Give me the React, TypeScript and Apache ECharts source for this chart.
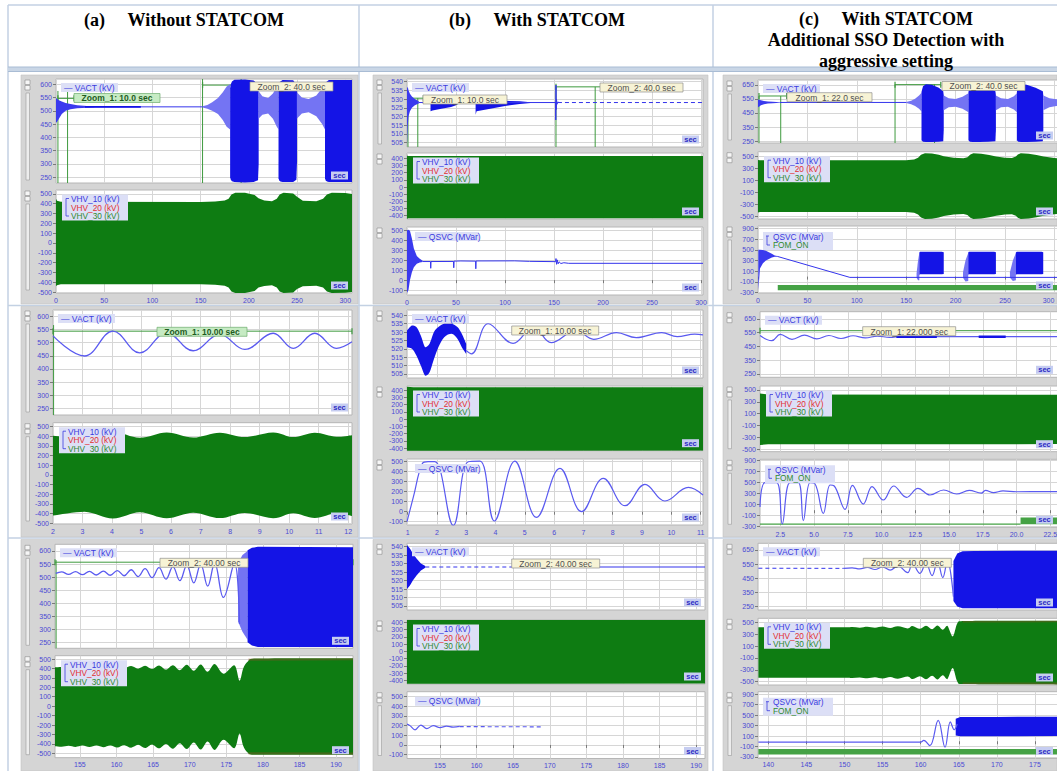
import React, { useEffect, useRef } from "react";
import * as echarts from "echarts";

// ---------------- tick values ----------------
const secTicks300 = [0, 50, 100, 150, 200, 250, 300];
const secTicksZoomA = [2, 3, 4, 5, 6, 7, 8, 9, 10, 11, 12];
const secTicksZoomB = [1, 2, 3, 4, 5, 6, 7, 8, 9, 10, 11];
const secTicksZoomC = [2.5, 5, 7.5, 10, 12.5, 15, 17.5, 20, 22.5];
const secTicksLateAB = [155, 160, 165, 170, 175, 180, 185, 190];
const secTicksLateC = [140, 145, 150, 155, 160, 165, 170, 175];
const kvTicks600 = [250, 300, 350, 400, 450, 500, 550, 600];
const kvTicks540 = [505, 510, 515, 520, 525, 530, 535, 540];
const kvTicks650 = [250, 350, 450, 550, 650];
const hvTicks500 = [-500, -400, -300, -200, -100, 0, 100, 200, 300, 400, 500];
const hvTicks400 = [-400, -300, -200, -100, 0, 100, 200, 300, 400];
const hvTicksOdd = [-500, -300, -100, 100, 300, 500];
const qTicks500 = [-100, 0, 100, 200, 300, 400, 500];
const qTicks900 = [-300, -100, 100, 300, 500, 700, 900];

const columnTitles = [
  ["(a)\u00a0\u00a0\u00a0\u00a0\u00a0Without STATCOM"],
  ["(b)\u00a0\u00a0\u00a0\u00a0\u00a0With STATCOM"],
  ["(c)\u00a0\u00a0\u00a0\u00a0\u00a0With STATCOM", "Additional SSO Detection with", "aggressive setting"],
];
const vhvNames = ["VHV_10 (kV)", "VHV_20 (kV)", "VHV_30 (kV)"];

// ---------------- (a) without STATCOM, 0-300 s ----------------
const a1VactSettle = [[0, 455, 548], [1, 458, 546], [3, 470, 540], [6, 488, 535], [10, 500, 530], [15, 506, 526], [22, 510, 521], [32, 512, 518], [40, 513, 517]];
const a1VactLine = [[40, 515], [152, 515]];
const a1VactThick = [[30, 515], [88, 515]];
const a1VactGrow = [[152, 513, 517], [157, 508, 522], [162, 500, 532], [168, 488, 548], [173, 465, 570], [177, 440, 592], [180.6, 430, 600]];
const a1VactBurst1 = [[180.6, 250, 585], [181.3, 240, 600], [182.5, 235, 611], [185, 232, 617], [196, 230, 618], [205, 232, 614], [209.5, 238, 600], [210.2, 300, 570]];
const a1VactRipple1 = [[210, 470, 575], [214, 485, 555], [220, 490, 548], [225, 470, 565], [229, 440, 590], [230.8, 430, 598]];
const a1VactBurst2 = [[230.8, 245, 590], [231.5, 238, 602], [232.7, 234, 611], [235, 232, 616], [246, 232, 615], [249.3, 240, 598], [250, 310, 570]];
const a1VactRipple2 = [[249.8, 470, 570], [255, 490, 550], [262, 495, 545], [270, 480, 558], [276, 450, 585], [279, 430, 598]];
const a1VactBurst3 = [[279, 245, 590], [279.7, 238, 602], [281, 234, 611], [283, 232, 616], [307, 232, 616]];
const a1VhvTop = [[0, 450], [1, 430], [5, 420], [150, 418], [165, 422], [175, 432], [179, 450], [182, 495], [186, 512], [196, 512], [206, 490], [210, 455], [216, 432], [224, 425], [229, 450], [232, 495], [236, 512], [246, 505], [250, 470], [256, 430], [270, 425], [277, 450], [281, 495], [286, 512], [300, 510], [307, 500]];
const a1VhvBot = [[0, -440], [1, -430], [5, -420], [150, -420], [165, -425], [175, -435], [179, -455], [182, -495], [186, -510], [196, -510], [206, -490], [210, -455], [216, -438], [224, -432], [229, -455], [232, -495], [236, -510], [246, -505], [250, -470], [256, -440], [270, -435], [277, -455], [281, -495], [286, -510], [300, -508], [307, -500]];
const a1Zoom1 = [2, 12];
const a1Zoom2 = [152, 192];

// ---------------- (b) with STATCOM, 0-300 s ----------------
const b1VactSettle = [[0, 504, 536], [0.8, 515, 537], [1.5, 520, 535], [3, 523, 533], [5, 525, 531.5], [8, 526.5, 530], [12, 527.5, 528.8]];
const b1VactLine = [[12, 528], [152, 528]];
const b1VactBurst1 = [[24, 523, 530], [26, 523.5, 530], [35, 524.5, 529.5], [45, 525.5, 529], [50, 526.5, 528.7], [51, 527.5, 528.4]];
const b1VactBurst2 = [[70, 521, 530.5], [71, 523, 530], [85, 524.5, 529.5], [100, 526, 529], [115, 527.2, 528.7], [126, 527.8, 528.2]];
const b1VactKick = [[151.6, 528], [151.8, 518], [152, 538], [152.2, 524], [152.5, 530], [153, 527], [154, 528.5]];
const b1VactTail = [[154, 528], [302, 528]];
const b1VhvTop = [[0, 440], [1, 432], [302, 432]];
const b1VhvBot = [[0, -445], [1, -434], [302, -434]];
const b1QsvcSettle = [[0, -130, 505], [1.5, -100, 510], [3, 0, 500], [5, 80, 420], [7, 130, 320], [10, 165, 245], [13, 178, 215], [16, 184, 196]];
const b1QsvcLine = [[16, 188], [24, 188], [24.2, 120], [24.5, 188], [47.5, 189], [47.7, 125], [48, 192], [55, 194], [70, 192], [70.2, 115], [70.5, 194], [110, 195], [125, 190], [151.6, 187], [152, 218], [152.6, 160], [153.3, 205], [154.2, 165], [155.2, 185], [157, 168], [160, 176], [165, 170], [302, 170]];
const b1Zoom1 = [1, 11];
const b1Zoom2 = [152, 192];

// ---------------- (c) with STATCOM + SSO detection, 0-300 s ----------------
const c1VactSettle = [[0, 490, 548], [1, 495, 545], [3, 505, 540], [6, 512, 535], [10, 517, 532], [15, 520, 530], [22, 523, 527]];
const c1VactLine = [[22, 525], [150, 525]];
const c1VactGrow = [[150, 521, 529], [155, 512, 538], [159, 500, 552], [163, 480, 575], [165.5, 460, 595]];
const c1VactBurst1 = [[165.5, 255, 600], [167, 245, 640], [170, 243, 655], [176, 243, 652], [183, 245, 630], [187.5, 248, 605], [188, 330, 575]];
const c1VactRipple1 = [[188, 470, 575], [193, 490, 555], [200, 495, 550], [207, 480, 565], [213, 455, 590]];
const c1VactBurst2 = [[213, 255, 600], [214.5, 245, 640], [217.5, 243, 655], [224, 243, 652], [233, 245, 630], [240.3, 248, 605], [240.8, 330, 575]];
const c1VactRipple2 = [[240.8, 470, 575], [246, 490, 555], [253, 495, 550], [259, 475, 570], [262, 455, 590]];
const c1VactBurst3 = [[262, 255, 600], [263.5, 245, 640], [266.5, 243, 655], [272, 243, 652], [281, 245, 630], [288.3, 248, 605], [288.8, 330, 575]];
const c1VactRipple3 = [[288.8, 470, 575], [295, 490, 555], [302, 500, 548], [308, 505, 545]];
const c1VhvTop = [[0, 435], [2, 428], [150, 428], [158, 440], [162, 470], [165, 520], [169, 545], [176, 540], [183, 520], [188, 495], [198, 470], [208, 462], [212, 480], [215, 525], [218, 545], [226, 538], [234, 515], [241, 490], [250, 470], [257, 465], [261, 490], [263, 525], [266, 545], [274, 538], [282, 515], [289, 490], [300, 465], [308, 460]];
const c1VhvBot = [[0, -440], [2, -432], [150, -432], [158, -445], [162, -475], [165, -525], [169, -548], [176, -545], [183, -525], [188, -500], [198, -475], [208, -466], [212, -485], [215, -530], [218, -548], [226, -542], [234, -520], [241, -495], [250, -475], [257, -470], [261, -495], [263, -530], [266, -548], [274, -542], [282, -520], [289, -495], [300, -470], [308, -465]];
const c1QsvcSettle = [[0.3, -250, 498], [1, -100, 500], [2, 150, 500], [5, 250, 495], [8, 300, 480], [11, 330, 455], [14, 355, 425], [17, 368, 395], [19.5, 372, 382]];
const c1QsvcLine = [[19.5, 377], [93, -15], [308, -15]];
const c1QsvcLead1 = [[160.5, -20, 60], [162, -70, 300], [163.3, -70, 440]];
const c1QsvcBurst1 = [[163.3, 30, 450], [164, 45, 465], [186, 45, 465], [188, 50, 455]];
const c1QsvcLead2 = [[207.5, -20, 80], [210, -90, 300], [212.8, -80, 440]];
const c1QsvcBurst2 = [[212.8, 35, 450], [213.5, 45, 465], [239, 45, 465], [240.8, 50, 455]];
const c1QsvcLead3 = [[255, -20, 80], [258, -80, 300], [261, -70, 440]];
const c1QsvcBurst3 = [[261, 35, 450], [262, 45, 465], [287, 45, 465], [288.7, 50, 455]];
const c1Fom = [[20, -255, -155], [308, -255, -155]];
const c1Zoom1 = [1, 23];
const c1Zoom2 = [138.7, 178.7];

// ---------------- Zoom_1 windows ----------------
const a2Vact = [[2, 525], [3.07, 449], [4.03, 543], [4.94, 461], [5.85, 537], [6.75, 469], [7.65, 531], [8.5, 474], [9.46, 535], [10.14, 478], [10.87, 535], [11.6, 478], [12.13, 503]];
const a2VhvTop = [[2, 405], [3.07, 382], [4.03, 445], [4.94, 385], [5.85, 440], [6.75, 388], [7.65, 438], [8.5, 392], [9.46, 440], [10.14, 392], [10.87, 438], [11.6, 395], [12.13, 412]];
const a2VhvBot = [[2, -420], [3.07, -380], [4.03, -450], [4.94, -385], [5.85, -448], [6.75, -390], [7.65, -446], [8.5, -392], [9.46, -447], [10.14, -395], [10.87, -445], [11.6, -397], [12.13, -425]];

const b2VactDense = [[0.98, 521, 531], [1.15, 520, 534], [1.3, 516, 533], [1.45, 510, 528], [1.6, 504, 521], [1.75, 506, 523], [1.9, 514, 530], [2.05, 521, 533], [2.25, 527, 535], [2.5, 529, 535], [2.7, 526, 533], [2.85, 521, 529], [3.0, 517, 523]];
const b2VactLine = [[3.0, 519], [3.18, 517], [3.75, 535], [4.6, 523.3], [5.3, 533], [5.9, 523.7], [6.75, 531], [7.35, 525.7], [8.13, 529.7], [8.8, 526.7], [9.67, 529.7], [10.2, 527.3], [10.8, 528.8], [11.08, 528.3]];
const b2VhvTop = [[0.98, 445], [1.2, 437], [11.08, 437]];
const b2VhvBot = [[0.98, -438], [11.08, -434]];
const b2Qsvc = [[0.98, -100], [1.2, 150], [1.5, 480], [1.7, 500], [1.93, 500], [2.56, -137], [3.07, 500], [3.47, 505], [3.96, -93], [4.66, 505], [5.4, -57], [6.2, 433], [6.94, 0], [7.68, 333], [8.42, 60], [9.1, 273], [9.78, 107], [10.58, 243], [11.08, 167]];

const c2Vact = [[1, 530], [1.87, 492], [2.5, 538], [3.37, 502], [4.3, 532], [5.2, 505], [6.1, 530], [7.0, 508], [7.9, 528], [8.8, 512], [9.7, 526], [10.6, 516], [11.5, 524], [12.4, 519], [13.3, 522], [23.4, 521]];
const c2VactThick1 = [[11.1, 521], [14.1, 521]];
const c2VactThick2 = [[17.2, 521], [19.2, 521]];
const c2VhvTop = [[1, 440], [1.6, 425], [23.4, 420]];
const c2VhvBot = [[1, -428], [1.6, -415], [23.4, -412]];
const c2Qsvc = [[1, 60], [1.37, 500], [2.23, 500], [2.65, -250], [3.22, 500], [3.84, 500], [4.21, -190], [4.7, 500], [5.07, 480], [5.69, -57], [6.19, 458], [6.5, 440], [7.3, 15], [7.85, 450], [8.65, 112], [9.3, 430], [10.13, 185], [10.9, 440], [11.86, 233], [12.7, 397], [13.59, 276], [14.6, 367], [15.57, 294], [16.5, 360], [17.4, 310], [17.7, 360], [18.3, 320], [19, 350], [20, 335], [23.4, 340]];
const c2FomLow = [[1, -255], [20.3, -255]];
const c2Fom = [[20.3, -255, -135], [23.4, -255, -135]];

// ---------------- Zoom_2 windows ----------------
const a3Vact = [[151.7, 514], [152.5, 520], [153.45, 510], [154.4, 521], [155.35, 509], [156.3, 522], [157.25, 508], [158.2, 523], [159.15, 507], [160.1, 525], [161.05, 505], [162, 528], [162.95, 502], [163.9, 532], [164.85, 498], [165.8, 536], [166.75, 492], [167.7, 540], [168.65, 486], [169.6, 545], [170.55, 478], [171.5, 550], [172.45, 465], [173.4, 553], [174.6, 422], [176.1, 553], [176.8, 320]];
const a3VactSpikes = [[176.6, 330, 553], [177.2, 290, 585], [177.9, 260, 600]];
const a3VactChaos = [[177.9, 250, 603], [178.5, 238, 612], [179.3, 232, 616], [192.3, 232, 614]];
const a3VhvTop = [[151.6, 412], [152.5, 416], [153.45, 408], [154.4, 418], [155.35, 406], [156.3, 419], [157.25, 405], [158.2, 420], [159.15, 404], [160.1, 422], [161.05, 402], [162, 425], [162.95, 398], [163.9, 428], [164.85, 394], [165.8, 431], [166.75, 388], [167.7, 434], [168.65, 382], [169.6, 438], [170.55, 375], [171.5, 442], [172.45, 365], [173.4, 446], [174.6, 345], [176.1, 435], [176.8, 270], [177.3, 400], [177.9, 470], [178.8, 505], [192.3, 508]];
const a3VhvBot = [[151.6, -425], [152.5, -430], [153.45, -420], [154.4, -432], [155.35, -418], [156.3, -433], [157.25, -417], [158.2, -434], [159.15, -416], [160.1, -437], [161.05, -413], [162, -440], [162.95, -410], [163.9, -444], [164.85, -405], [165.8, -447], [166.75, -400], [167.7, -451], [168.65, -393], [169.6, -455], [170.55, -386], [171.5, -460], [172.45, -375], [173.4, -464], [174.6, -355], [176.1, -445], [176.8, -290], [177.3, -420], [177.9, -490], [178.8, -515], [192.3, -515]];
const a3VhvRedTop = [[178, 482, 505], [192.3, 488, 508]];
const a3VhvRedBot = [[178, -512, -488], [192.3, -515, -492]];

const b3VactSettle = [[150.5, 515, 541], [150.9, 517, 539], [151.3, 520, 536], [151.8, 523, 533], [152.4, 526, 530], [153, 527.5, 528.6]];
const b3VactDash = [[153, 528], [165.5, 528]];
const b3VactLine = [[165.5, 528], [191.2, 528]];
const b3VhvTop = [[150.5, 440], [150.8, 433], [191.2, 433]];
const b3VhvBot = [[150.5, -445], [191.2, -440]];
const b3Qsvc = [[150.5, 215], [150.9, 200], [151.6, 157], [152.4, 206], [153.2, 170], [154.1, 200], [155, 180], [155.9, 195], [156.8, 185], [157.7, 192]];
const b3QsvcDash = [[157.7, 189], [169, 188]];

const c3VactDash = [[138.7, 521], [149.9, 520]];
const c3VactGrow = [[149.9, 520], [151, 524], [152, 516], [153, 527], [154, 512], [155, 530], [156, 507], [157, 538], [158.3, 490], [158.9, 556], [159.9, 485], [160.7, 556], [161.5, 469], [162.2, 568], [162.9, 455], [163.5, 572], [164.3, 320]];
const c3VactChaos = [[164.3, 290, 572], [164.8, 250, 625], [165.5, 238, 640], [167, 238, 643], [178.6, 238, 645]];
const c3VhvTop = [[138.7, 415], [150, 415], [151, 420], [152, 410], [153, 423], [154, 406], [155, 427], [156, 402], [157, 432], [158.3, 396], [158.9, 438], [159.9, 390], [160.7, 442], [161.5, 384], [162.2, 446], [162.9, 375], [163.5, 440], [164.2, 260], [164.8, 480], [165.5, 520], [178.6, 525]];
const c3VhvBot = [[138.7, -432], [150, -432], [151, -437], [152, -427], [153, -440], [154, -423], [155, -444], [156, -419], [157, -449], [158.3, -413], [158.9, -455], [159.9, -407], [160.7, -459], [161.5, -401], [162.2, -463], [162.9, -392], [163.5, -457], [164.2, -270], [164.8, -495], [165.5, -540], [178.6, -545]];
const c3VhvRedTop = [[165.5, 495, 520], [178.6, 500, 525]];
const c3VhvRedBot = [[165.5, -540, -512], [178.6, -545, -515]];
const c3Qsvc = [[138.7, -15], [160, -15], [160.4, 15], [161.2, -85], [162.3, 400], [163.2, -115], [163.9, 370], [164.4, 220], [164.8, 330]];
const c3QsvcBurst = [[164.6, 110, 430], [165.2, 95, 465], [170, 95, 465], [178.6, 100, 470]];
const c3Fom = [[138.7, -255, -150], [178.6, -255, -150]];

// ---------------- styling ----------------
const FONT = "'Liberation Sans', Arial, sans-serif";
const SERIF = "'Liberation Serif', 'Times New Roman', serif";
const BLUE = "#1414e6";
const BLUE_MID = "#3a3aee";
const BLUE_LINE = "#3434ec";
const BLUE_LIGHT = "#7474f3";
const BLUE_WAVE = "#5a5af0";
const GREEN = "#0e7c12";
const FOM_GREEN = "#45a245";
const MARK_GREEN = "#3e9a3e";
const RED_EDGE = "#a4472c";
const LABEL_BLUE = "#4a4ad4";
const TEXT_BLUE = "#3a3ae0";
const FRAME_GRAY = "#d5d5d5";
const TABLE_LINE = "#c3d1e3";

// Outline through pixel points; optional Catmull-Rom smoothing with clamped control points.
function outline(pts: number[][], smooth: boolean, start: boolean): string {
  let d = "";
  for (let i = 0; i < pts.length; i++) {
    const p = pts[i];
    if (i === 0) {
      d += (start ? "M" : "L") + p[0] + " " + p[1];
      continue;
    }
    if (!smooth) {
      d += "L" + p[0] + " " + p[1];
      continue;
    }
    const a = pts[i - 1];
    const a0 = pts[i - 2] || a;
    const b1 = pts[i + 1] || p;
    const cl = (v: number, u: number, w: number) => Math.max(Math.min(u, w), Math.min(Math.max(u, w), v));
    const c1x = cl(a[0] + (p[0] - a0[0]) / 6, a[0], p[0]);
    const c1y = cl(a[1] + (p[1] - a0[1]) / 6, a[1], p[1]);
    const c2x = cl(p[0] - (b1[0] - a[0]) / 6, a[0], p[0]);
    const c2y = cl(p[1] - (b1[1] - a[1]) / 6, a[1], p[1]);
    d += "C" + c1x + " " + c1y + " " + c2x + " " + c2y + " " + p[0] + " " + p[1];
  }
  return d;
}

function buildOption() {
  const grid: any[] = [];
  const xAxis: any[] = [];
  const yAxis: any[] = [];
  const series: any[] = [];
  const graphic: any[] = [];

  const box = (x: number, y: number, w: number, h: number, fill: string, stroke = "none", lw = 0, z = 40) =>
    graphic.push({ type: "rect", silent: true, z, shape: { x, y, width: w, height: h }, style: { fill, stroke, lineWidth: lw } });
  const label = (x: number, y: number, str: string, color: string, size: number, opt: any = {}) =>
    graphic.push({
      type: "text", silent: true, z: opt.z || 41, x, y,
      style: { text: str, fill: color, fontSize: size, fontFamily: opt.family || FONT, fontWeight: opt.weight || "normal", align: opt.align || "left", verticalAlign: "middle" },
    });
  const rule = (x1: number, y1: number, x2: number, y2: number, color: string, lw: number, z = 41) =>
    graphic.push({ type: "line", silent: true, z, shape: { x1, y1, x2, y2 }, style: { stroke: color, lineWidth: lw } });

  const panel = (p: any) => {
    const gi = grid.length;
    const [l, t, r, b] = p.box;
    grid.push({
      left: l, top: t, width: r - l, height: b - t, show: true, backgroundColor: "#ffffff",
      borderColor: "#b6b6b6", borderWidth: 1, containLabel: false, outerBoundsMode: "none",
    });
    xAxis.push({
      gridIndex: gi, type: "value", min: p.x[0], max: p.x[1],
      axisLine: { show: false },
      axisTick: { show: !!p.xLabels, customValues: p.xTicks, length: 3, lineStyle: { color: "#7a7a7a" } },
      axisLabel: {
        show: !!p.xLabels, customValues: p.xTicks, fontSize: 7, color: LABEL_BLUE, fontFamily: FONT, margin: p.xMargin || 4,
        alignMaxLabel: p.alignMax || null,
        formatter: (v: number) => (p.xDec ? v.toFixed(1) : String(v)),
      },
      splitLine: { show: true, lineStyle: { color: "#d6d6d6", width: 1 } },
    });
    yAxis.push({
      gridIndex: gi, type: "value", min: p.y[0], max: p.y[1],
      axisLine: { show: false },
      axisTick: { show: true, customValues: p.yTicks, length: 3, lineStyle: { color: "#7a7a7a" } },
      axisLabel: { show: true, customValues: p.yTicks, fontSize: 7, color: LABEL_BLUE, fontFamily: FONT, margin: 4, formatter: (v: number) => String(v) },
      splitLine: { show: true, lineStyle: { color: "#d6d6d6", width: 1 } },
    });
    const vr = Math.min(r, 1057);
    box(vr - 21, b - 11.5, 17, 8, "#c6cdf1");
    label(vr - 12.5, b - 7.4, "sec", "#2b2bc4", 7.5, { weight: "bold", align: "center" });
    const fx = p.frameX;
    box(fx + 4, t + 1, 5, 4.5, "#f6f6f6", "#8c8c8c", 0.6, 1);
    box(fx + 4, t + 6.5, 5, 4.5, "#f6f6f6", "#8c8c8c", 0.6, 1);
    if (p.track) box(fx + 5, t + 14, 3.5, b - t - 17, "#ededed", "#9a9a9a", 0.6, 1);
    return gi;
  };

  const trace = (gi: number, data: number[][], color: string, width = 1, opt: any = {}) =>
    series.push({
      type: "line", xAxisIndex: gi, yAxisIndex: gi, data, silent: true, z: opt.z || 3,
      symbol: opt.tick ? "rect" : "none", symbolSize: opt.tick ? [1.2, 6] : 0, showSymbol: !!opt.tick,
      itemStyle: { color }, smooth: opt.smooth ? 0.4 : false, emphasis: { disabled: true },
      lineStyle: { color, width, type: opt.dash ? [4, 3] : "solid" },
    });

  const band = (gi: number, top: number[][], bot: number[][], color: string, smooth = false, opacity = 1) =>
    series.push({
      type: "custom", xAxisIndex: gi, yAxisIndex: gi, silent: true, clip: true, z: 2,
      data: top.concat(bot),
      renderItem: (params: any, api: any) => {
        if (params.dataIndex !== 0) return null;
        const up = top.map((q) => api.coord(q));
        const dn = bot.slice().reverse().map((q) => api.coord(q));
        return {
          type: "path",
          shape: { pathData: outline(up, smooth, true) + outline(dn, smooth, false) + "Z" },
          style: { fill: color, opacity },
        };
      },
    });
  const bandRows = (gi: number, rows: number[][], color: string, smooth = false, opacity = 1) =>
    band(gi, rows.map((r) => [r[0], r[2]]), rows.map((r) => [r[0], r[1]]), color, smooth, opacity);

  const vmark = (gi: number, t: number, y0: number, y1: number) => trace(gi, [[t, y0], [t, y1]], MARK_GREEN, 1, { z: 1 });
  const hspan = (gi: number, t0: number, t1: number, y: number) => trace(gi, [[t0, y], [t1, y]], MARK_GREEN, 1, { z: 1, tick: true });

  const legendVact = (l: number, t: number) => {
    box(l + 5, t + 4, 57, 9, "#dcdff6");
    label(l + 8, t + 8.7, "\u2014 VACT (kV)", TEXT_BLUE, 8.5);
  };
  const legendVhv = (l: number, t: number) => {
    const x = l + 6, y = t + 4.5;
    box(x, y, 66, 26, "#dcdff6");
    rule(x + 4, y + 4, x + 4, y + 21.5, TEXT_BLUE, 0.8);
    rule(x + 4, y + 4, x + 7, y + 4, TEXT_BLUE, 0.8);
    rule(x + 4, y + 21.5, x + 7, y + 21.5, TEXT_BLUE, 0.8);
    label(x + 9, y + 4.5, vhvNames[0], TEXT_BLUE, 8.3);
    label(x + 9, y + 13, vhvNames[1], "#e23030", 8.3);
    label(x + 9, y + 21.5, vhvNames[2], "#2f8a2f", 8.3);
  };
  const legendQ = (l: number, t: number) => {
    box(l + 8, t + 5, 64, 9, "#dcdff6");
    label(l + 11, t + 9.7, "\u2014 QSVC (MVar)", TEXT_BLUE, 8.5);
  };
  const legendQF = (l: number, t: number) => {
    const x = l + 5, y = t + 6;
    box(x, y, 70, 18, "#dcdff6");
    rule(x + 4, y + 4, x + 4, y + 13, TEXT_BLUE, 0.8);
    rule(x + 3, y + 4, x + 6, y + 4, TEXT_BLUE, 0.8);
    rule(x + 4, y + 13, x + 7, y + 13, TEXT_BLUE, 0.8);
    label(x + 10, y + 4.5, "QSVC (MVar)", TEXT_BLUE, 8.3);
    label(x + 10, y + 13, "FOM_ON", "#2f8a2f", 8.3);
  };
  const zoomTag = (x: number, y: number, w: number, str: string, green: boolean) => {
    box(x, y, w, 9, green ? "#c6ebc3" : "#f7f3d5", green ? "#6fae6f" : "#8f8f8f", 0.7, 45);
    label(x + w / 2, y + 4.8, str, green ? "#1f5c1f" : "#505050", 8.5, { weight: green ? "bold" : "normal", align: "center", z: 46 });
  };

  // ---------- table and frames ----------
  rule(8, 5, 1057, 5, TABLE_LINE, 1.5, -2);
  rule(8, 5, 8, 771, TABLE_LINE, 1.5, -2);
  rule(359, 5, 359, 771, TABLE_LINE, 1.5, -2);
  rule(713, 5, 713, 771, TABLE_LINE, 1.5, -2);
  box(8, 67, 1049, 4.5, "#c9d6e6", "none", 0, -2);
  rule(8, 67, 1057, 67, "#a9bcd4", 1, -2);
  rule(8, 71.5, 1057, 71.5, "#a9bcd4", 1, -2);
  rule(8, 305.5, 1057, 305.5, TABLE_LINE, 1.5, -2);
  rule(8, 538, 1057, 538, TABLE_LINE, 1.5, -2);
  const rowsY = [[75, 304], [306.5, 537], [539.5, 771]];
  const colsX = [[21, 358], [373, 708], [723, 1057]];
  rowsY.forEach(([y0, y1]) => colsX.forEach(([x0, x1]) => box(x0, y0, x1 - x0, y1 - y0, FRAME_GRAY, "#c4c4c4", 0.6, -1)));

  // ---------- titles ----------
  label(184, 20, columnTitles[0][0], "#000", 18, { family: SERIF, weight: "bold", align: "center" });
  label(537, 20, columnTitles[1][0], "#000", 18, { family: SERIF, weight: "bold", align: "center" });
  label(886, 18.5, columnTitles[2][0], "#000", 18, { family: SERIF, weight: "bold", align: "center" });
  label(886, 40, columnTitles[2][1], "#000", 18, { family: SERIF, weight: "bold", align: "center" });
  label(886, 60.5, columnTitles[2][2], "#000", 18, { family: SERIF, weight: "bold", align: "center" });

  // ================= row 1 =================
  let g = panel({ box: [56, 79, 352, 183], x: [0, 307], xTicks: secTicks300, y: [228, 620], yTicks: kvTicks600, frameX: 21, track: true });
  vmark(g, a1Zoom1[0], 228, 575); vmark(g, a1Zoom1[1], 228, 575);
  vmark(g, a1Zoom2[0], 228, 620); vmark(g, a1Zoom2[1], 228, 620);
  hspan(g, a1Zoom1[0], 18.7, 547); hspan(g, a1Zoom2[0], 202, 597);
  bandRows(g, a1VactSettle, BLUE_MID);
  trace(g, a1VactLine, BLUE_LINE, 1);
  trace(g, a1VactThick, BLUE, 1.8);
  bandRows(g, a1VactGrow, BLUE_LIGHT);
  bandRows(g, a1VactBurst1, BLUE);
  bandRows(g, a1VactRipple1, BLUE_LIGHT);
  bandRows(g, a1VactBurst2, BLUE);
  bandRows(g, a1VactRipple2, BLUE_LIGHT);
  bandRows(g, a1VactBurst3, BLUE);
  legendVact(56, 79);
  zoomTag(74, 93.5, 86, "Zoom_1: 10.0 sec", true);
  zoomTag(250, 82, 83, "Zoom_2: 40.0 sec", false);
  g = panel({ box: [56, 190, 352, 293], x: [0, 307], xTicks: secTicks300, xLabels: true, y: [-510, 540], yTicks: hvTicks500, frameX: 21, track: true });
  band(g, a1VhvTop, a1VhvBot, GREEN);
  legendVhv(56, 190);

  g = panel({ box: [407, 79, 703, 147], x: [0, 302], xTicks: secTicks300, y: [502.5, 541.5], yTicks: kvTicks540, frameX: 373, track: true });
  vmark(g, b1Zoom1[0], 502.5, 530.5); vmark(g, b1Zoom1[1], 502.5, 530.5);
  vmark(g, b1Zoom2[0], 502.5, 537); vmark(g, b1Zoom2[1], 502.5, 537);
  hspan(g, b1Zoom1[0], 16.7, 530.5); hspan(g, b1Zoom2[0], 197.6, 537);
  trace(g, b1VactLine, BLUE_LINE, 1);
  bandRows(g, b1VactSettle, BLUE_MID);
  bandRows(g, b1VactBurst1, BLUE);
  bandRows(g, b1VactBurst2, BLUE);
  trace(g, b1VactKick, BLUE_LINE, 1);
  trace(g, b1VactTail, BLUE_LINE, 1, { dash: true });
  legendVact(407, 79);
  zoomTag(423, 95, 84, "Zoom_1: 10.0 sec", false);
  zoomTag(600, 83, 83, "Zoom_2: 40.0 sec", false);
  g = panel({ box: [407, 153, 703, 219], x: [0, 302], xTicks: secTicks300, y: [-446, 474], yTicks: hvTicks400, frameX: 373 });
  band(g, b1VhvTop, b1VhvBot, GREEN);
  legendVhv(407, 153);
  g = panel({ box: [407, 227, 703, 295], x: [0, 302], xTicks: secTicks300, xLabels: true, y: [-150, 537], yTicks: qTicks500, frameX: 373 });
  bandRows(g, b1QsvcSettle, BLUE_MID);
  trace(g, b1QsvcLine, BLUE_LINE, 1);
  legendQ(407, 227);

  g = panel({ box: [758, 80, 1062, 143], x: [0, 307.7], xTicks: secTicks300, y: [236, 685], yTicks: kvTicks650, frameX: 723, track: true });
  vmark(g, c1Zoom1[0], 236, 571); vmark(g, c1Zoom1[1], 236, 571);
  vmark(g, c1Zoom2[0], 236, 655); vmark(g, c1Zoom2[1], 236, 655);
  hspan(g, c1Zoom1[0], 29, 571); hspan(g, c1Zoom2[0], 185, 652);
  bandRows(g, c1VactSettle, BLUE_MID);
  trace(g, c1VactLine, BLUE_LINE, 1);
  bandRows(g, c1VactGrow, BLUE_LIGHT);
  bandRows(g, c1VactBurst1, BLUE);
  bandRows(g, c1VactRipple1, BLUE_LIGHT);
  bandRows(g, c1VactBurst2, BLUE);
  bandRows(g, c1VactRipple2, BLUE_LIGHT);
  bandRows(g, c1VactBurst3, BLUE);
  bandRows(g, c1VactRipple3, BLUE_LIGHT);
  legendVact(758, 80);
  zoomTag(787, 92.7, 85, "Zoom_1: 22.0 sec", false);
  zoomTag(942, 81.5, 83, "Zoom_2: 40.0 sec", false);
  g = panel({ box: [758, 151.7, 1062, 219], x: [0, 307.7], xTicks: secTicks300, y: [-550, 572], yTicks: hvTicksOdd, frameX: 723 });
  band(g, c1VhvTop, c1VhvBot, GREEN);
  legendVhv(758, 151.7);
  g = panel({ box: [758, 226, 1062, 293], x: [0, 307.7], xTicks: secTicks300, xLabels: true, alignMax: "right", y: [-306, 943], yTicks: qTicks900, frameX: 723, track: true });
  bandRows(g, c1Fom, FOM_GREEN);
  bandRows(g, c1QsvcSettle, BLUE_MID);
  trace(g, c1QsvcLine, BLUE_LINE, 1);
  bandRows(g, c1QsvcLead1, BLUE_LIGHT);
  bandRows(g, c1QsvcBurst1, BLUE);
  bandRows(g, c1QsvcLead2, BLUE_LIGHT);
  bandRows(g, c1QsvcBurst2, BLUE);
  bandRows(g, c1QsvcLead3, BLUE_LIGHT);
  bandRows(g, c1QsvcBurst3, BLUE);
  legendQF(758, 226);

  // ================= row 2 =================
  g = panel({ box: [53, 310, 352, 415], x: [2, 12.13], xTicks: secTicksZoomA, y: [226, 623], yTicks: kvTicks600, frameX: 21, track: true });
  vmark(g, 2.02, 226, 566);
  hspan(g, 2, 12.13, 543);
  trace(g, a2Vact, BLUE_WAVE, 1.3, { smooth: true });
  legendVact(53, 310);
  zoomTag(157, 327.3, 90, "Zoom_1: 10.00 sec", true);
  g = panel({ box: [53, 422.7, 352, 524], x: [2, 12.13], xTicks: secTicksZoomA, xLabels: true, y: [-507, 541], yTicks: hvTicks500, frameX: 21, track: true });
  band(g, a2VhvTop, a2VhvBot, GREEN, true);
  legendVhv(53, 422.7);

  g = panel({ box: [407, 310, 703, 378], x: [0.98, 11.08], xTicks: secTicksZoomB, y: [502.6, 543.2], yTicks: kvTicks540, frameX: 373 });
  bandRows(g, b2VactDense, BLUE, true);
  trace(g, b2VactLine, BLUE_WAVE, 1.2, { smooth: true });
  legendVact(407, 310);
  zoomTag(511.7, 326, 87, "Zoom_1: 10.00 sec", false);
  g = panel({ box: [407, 386, 703, 450.7], x: [0.98, 11.08], xTicks: secTicksZoomB, y: [-434, 455], yTicks: hvTicks400, frameX: 373 });
  band(g, b2VhvTop, b2VhvBot, GREEN);
  legendVhv(407, 386);
  g = panel({ box: [407, 459, 703, 525], x: [0.98, 11.08], xTicks: secTicksZoomB, xLabels: true, y: [-133, 527], yTicks: qTicks500, frameX: 373 });
  trace(g, b2Qsvc, BLUE_WAVE, 1.2, { smooth: true });
  legendQ(407, 459);

  g = panel({ box: [760, 311.7, 1062, 377.3], x: [1, 23.37], xTicks: secTicksZoomC, xDec: true, y: [226, 703], yTicks: kvTicks650, frameX: 723 });
  hspan(g, 1, 23.37, 565);
  trace(g, c2Vact, BLUE_WAVE, 1.2, { smooth: true });
  trace(g, c2VactThick1, BLUE, 2.4);
  trace(g, c2VactThick2, BLUE, 2.4);
  legendVact(760, 311.7);
  zoomTag(862.7, 326.7, 93, "Zoom_1: 22.000 sec", false);
  g = panel({ box: [760, 386, 1062, 451.7], x: [1, 23.37], xTicks: secTicksZoomC, xDec: true, y: [-540, 567], yTicks: hvTicksOdd, frameX: 723, track: true });
  band(g, c2VhvTop, c2VhvBot, GREEN);
  legendVhv(760, 386);
  g = panel({ box: [760, 459.3, 1062, 527.3], x: [1, 23.37], xTicks: secTicksZoomC, xDec: true, xLabels: true, y: [-311, 925], yTicks: qTicks900, frameX: 723, track: true });
  trace(g, c2FomLow, FOM_GREEN, 1.2);
  bandRows(g, c2Fom, FOM_GREEN);
  trace(g, c2Qsvc, BLUE_WAVE, 1.2, { smooth: true });
  legendQF(760, 459.3);

  // ================= row 3 =================
  g = panel({ box: [55, 544.3, 353, 648.3], x: [151.6, 192.3], xTicks: secTicksLateAB, y: [227, 625.6], yTicks: kvTicks600, frameX: 21, track: true });
  vmark(g, 151.75, 227, 565);
  hspan(g, 151.6, 192.3, 557);
  trace(g, a3Vact, BLUE_WAVE, 1.3, { smooth: true });
  bandRows(g, a3VactSpikes, BLUE_LIGHT);
  bandRows(g, a3VactChaos, BLUE);
  legendVact(55, 544.3);
  zoomTag(160, 558.3, 88, "Zoom_2: 40.00 sec", false);
  g = panel({ box: [55, 655.7, 353, 757.7], x: [151.6, 192.3], xTicks: secTicksLateAB, xLabels: true, xMargin: 3, y: [-546, 535], yTicks: hvTicks500, frameX: 21, track: true });
  band(g, a3VhvTop, a3VhvBot, GREEN, true);
  bandRows(g, a3VhvRedTop, RED_EDGE, false, 0.35);
  bandRows(g, a3VhvRedBot, RED_EDGE, false, 0.35);
  legendVhv(55, 655.7);

  g = panel({ box: [407, 543.3, 705, 610], x: [150.5, 191.2], xTicks: secTicksLateAB, y: [502.6, 542], yTicks: kvTicks540, frameX: 373 });
  bandRows(g, b3VactSettle, BLUE);
  trace(g, b3VactDash, BLUE_LINE, 1, { dash: true });
  trace(g, b3VactLine, BLUE_LINE, 1.2);
  legendVact(407, 543.3);
  zoomTag(511.7, 559, 88, "Zoom_2: 40.00 sec", false);
  g = panel({ box: [407, 620, 705, 684], x: [150.5, 191.2], xTicks: secTicksLateAB, y: [-448, 432], yTicks: hvTicks400, frameX: 373 });
  band(g, b3VhvTop, b3VhvBot, GREEN);
  legendVhv(407, 620);
  g = panel({ box: [407, 691.7, 705, 758.5], x: [150.5, 191.2], xTicks: secTicksLateAB, xLabels: true, xMargin: 3, y: [-140, 551], yTicks: qTicks500, frameX: 373, track: true });
  trace(g, b3Qsvc, BLUE_WAVE, 1.2, { smooth: true });
  trace(g, b3QsvcDash, BLUE_WAVE, 1.2, { dash: true });
  legendQ(407, 691.7);

  g = panel({ box: [758, 543.3, 1062, 610], x: [138.65, 178.55], xTicks: secTicksLateC, y: [226, 697], yTicks: kvTicks650, frameX: 723 });
  trace(g, c3VactDash, BLUE_LINE, 1, { dash: true });
  trace(g, c3VactGrow, BLUE_WAVE, 1.2, { smooth: true });
  bandRows(g, c3VactChaos, BLUE);
  legendVact(758, 543.3);
  zoomTag(863.3, 558.3, 88, "Zoom_2: 40.00 sec", false);
  g = panel({ box: [758, 618.3, 1062, 685], x: [138.65, 178.55], xTicks: secTicksLateC, y: [-555, 567], yTicks: hvTicksOdd, frameX: 723 });
  band(g, c3VhvTop, c3VhvBot, GREEN, true);
  bandRows(g, c3VhvRedTop, RED_EDGE, false, 0.35);
  bandRows(g, c3VhvRedBot, RED_EDGE, false, 0.35);
  legendVhv(758, 618.3);
  g = panel({ box: [758, 691.7, 1062, 758.5], x: [138.65, 178.55], xTicks: secTicksLateC, xLabels: true, xMargin: 2, y: [-330, 948], yTicks: qTicks900, frameX: 723, track: true });
  bandRows(g, c3Fom, FOM_GREEN);
  trace(g, c3Qsvc, BLUE_WAVE, 1.2, { smooth: true });
  bandRows(g, c3QsvcBurst, BLUE);
  legendQF(758, 691.7);

  return {
    animation: false,
    backgroundColor: "#ffffff",
    grid,
    xAxis,
    yAxis,
    series,
    graphic: { elements: graphic },
  };
}

export default function App() {
  const ref = useRef<HTMLDivElement>(null);
  useEffect(() => {
    if (!ref.current) return;
    const chart = echarts.init(ref.current, null, { renderer: "svg", width: 1057, height: 771 });
    chart.setOption(buildOption() as any);
    return () => chart.dispose();
  }, []);
  return <div ref={ref} style={{ position: "absolute", left: 0, top: 0, width: 1057, height: 771, background: "#fff" }} />;
}
